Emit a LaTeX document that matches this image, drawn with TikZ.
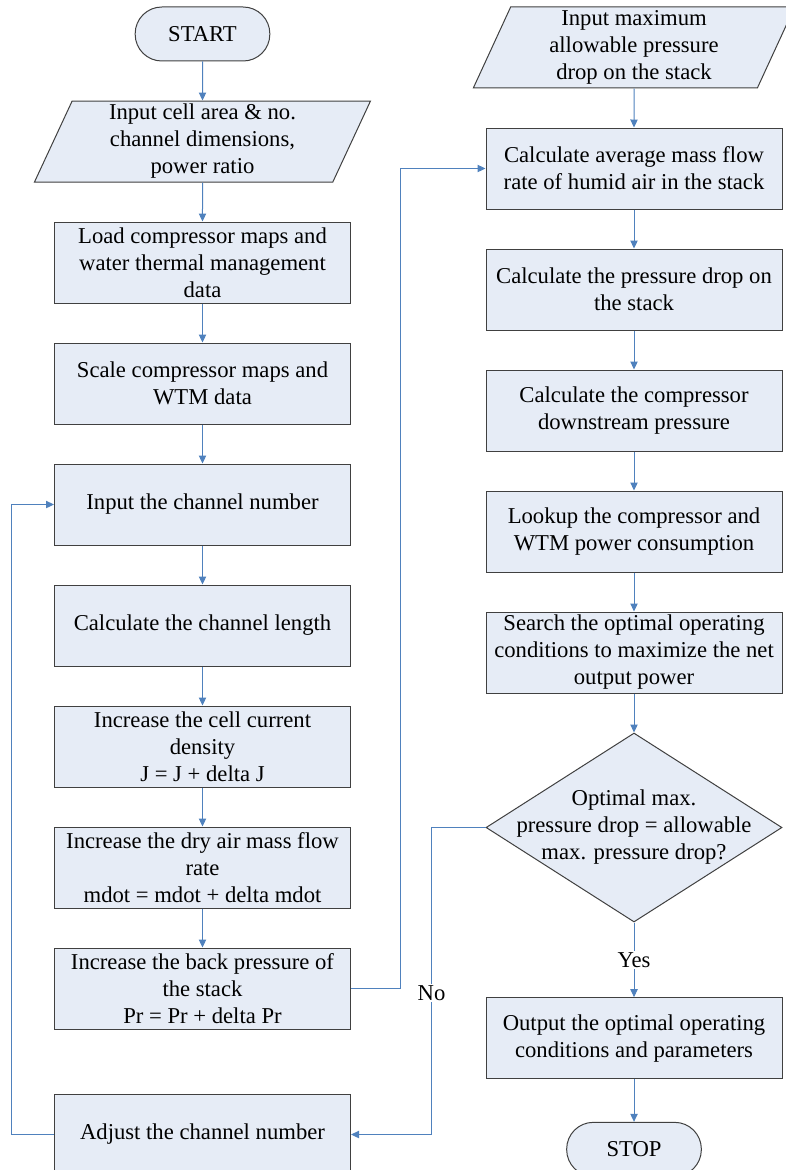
\documentclass[tikz,border=0pt]{standalone}
\usepackage{fontspec}
\setmainfont{Liberation Serif}
\usepackage{tikz}
\usetikzlibrary{arrows.meta,positioning,shapes.geometric}
\definecolor{boxfill}{RGB}{230,236,246}
\definecolor{linkblue}{RGB}{79,129,189}
\definecolor{edgegray}{RGB}{64,64,64}

\begin{document}
\begin{tikzpicture}[
  x=0.75pt, y=-0.75pt,
  node distance=29.25pt,
  font=\fontsize{17pt}{20.25pt}\selectfont,
  base/.style={draw=edgegray, fill=boxfill, line width=0.75pt, align=center, inner sep=1pt},
  proc/.style={base, rectangle, minimum width=222pt, minimum height=60.75pt},
  term/.style={base, rounded corners=20pt, minimum width=101pt, minimum height=40.5pt},
  io/.style={base, trapezium, trapezium left angle=64, trapezium right angle=116,
    trapezium stretches body, minimum width=252pt, minimum height=60.75pt},
  decide/.style={base, diamond, aspect=1.57, minimum width=222pt, minimum height=141.75pt},
  arrow/.style={-{Triangle[length=6pt,width=5.5pt]}, draw=linkblue, line width=0.75pt},
]
  \useasboundingbox (0,0) rectangle (785,1170);

  \node[term] (start) at (202.5,34) {START};
  \node[io, below=of start] (inparam) {Input cell area \& no.\\channel dimensions,\\power ratio};
  \node[proc, below=of inparam] (load) {Load compressor maps and\\water thermal management\\data};
  \node[proc, below=of load] (scale) {Scale compressor maps and\\WTM data};
  \node[proc, below=of scale] (chnum) {Input the channel number};
  \node[proc, below=of chnum] (chlen) {Calculate the channel length};
  \node[proc, below=of chlen] (curr) {Increase the cell current\\density\\J = J + delta J};
  \node[proc, below=of curr] (mdot) {Increase the dry air mass flow\\rate\\mdot = mdot + delta mdot};
  \node[proc, below=of mdot] (backp) {Increase the back pressure of\\the stack\\Pr = Pr + delta Pr};
  \node[proc, below=48pt of backp] (adjust) {Adjust the channel number};

  \node[io, minimum width=241pt] (inmax) at (634,47.5) {Input maximum\\allowable pressure\\drop on the stack};
  \node[proc, below=of inmax] (avg) {Calculate average mass flow\\rate of humid air in the stack};
  \node[proc, below=of avg] (pdrop) {Calculate the pressure drop on\\the stack};
  \node[proc, below=of pdrop] (down) {Calculate the compressor\\downstream pressure};
  \node[proc, below=of down] (lookup) {Lookup the compressor and\\WTM power consumption};
  \node[proc, below=of lookup] (search) {Search the optimal operating\\conditions to maximize the net\\output power};
  \node[decide, below=of search] (check) {};
  \node[align=center] (checktxt) at (check) {Optimal max.\\pressure drop = allowable\\max. pressure drop?};
  \node[proc, below=56pt of check] (output) {Output the optimal operating\\conditions and parameters};
  \node[term, below=32pt of output] (stop) {STOP};

  \draw[arrow] (start) -- (inparam);
  \draw[arrow] (inparam) -- (load);
  \draw[arrow] (load) -- (scale);
  \draw[arrow] (scale) -- (chnum);
  \draw[arrow] (chnum) -- (chlen);
  \draw[arrow] (chlen) -- (curr);
  \draw[arrow] (curr) -- (mdot);
  \draw[arrow] (mdot) -- (backp);
  \draw[arrow] (backp.east) -- ++(49,0) |- (avg.west);
  \draw[arrow] (adjust.west) -- ++(-43,0) |- (chnum.west);

  \draw[arrow] (inmax) -- (avg);
  \draw[arrow] (avg) -- (pdrop);
  \draw[arrow] (pdrop) -- (down);
  \draw[arrow] (down) -- (lookup);
  \draw[arrow] (lookup) -- (search);
  \draw[arrow] (search) -- (check);
  \draw[arrow] (check.south) -- node[fill=white, inner sep=1pt] (yeslbl) {Yes} (output.north);
  \draw[arrow] (check.west) -- ++(-54,0) |- node[pos=0.27, fill=white, inner sep=1pt] (nolbl) {No} (adjust.east);
  \draw[arrow] (output) -- (stop);
\end{tikzpicture}
\end{document}
